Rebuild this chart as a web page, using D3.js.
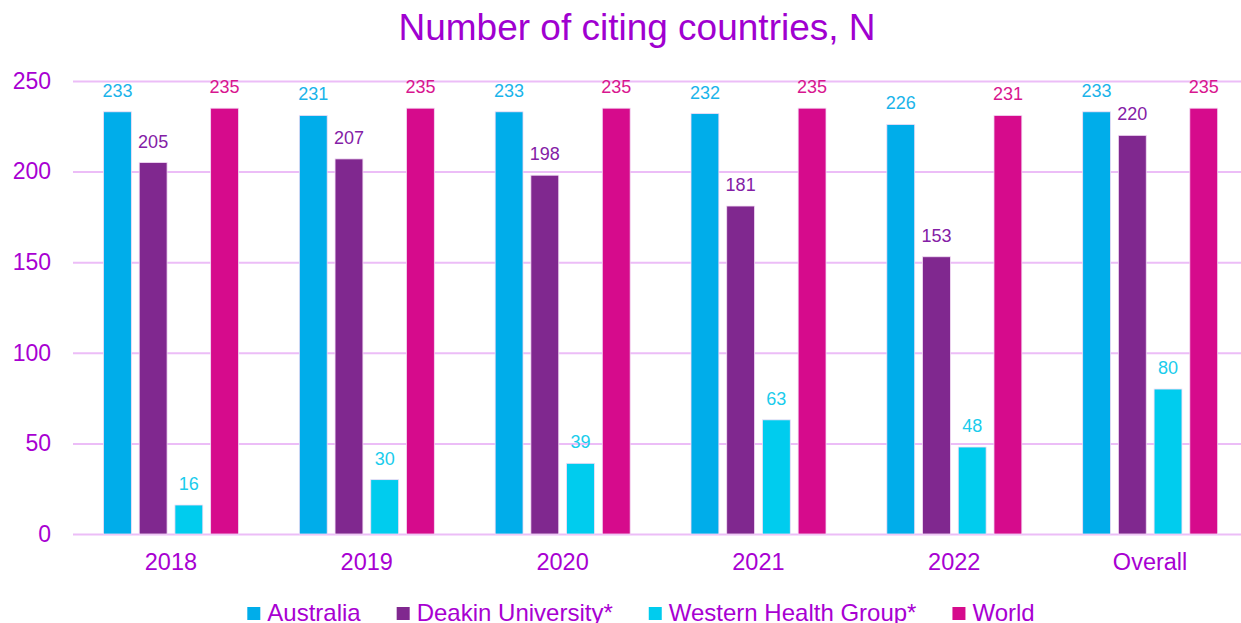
<!DOCTYPE html>
<html>
<head>
<meta charset="utf-8">
<script src="https://cdn.jsdelivr.net/npm/d3@7"></script>
<style>
  body { margin: 0; background: #fff; }
  svg { display: block; font-family: "Liberation Sans", Arial, sans-serif; }
</style>
</head>
<body>
<svg id="chart" width="1241" height="623"></svg>
<script>
// data
const years = ["2018", "2019", "2020", "2021", "2022", "Overall"];
const seriesNames = ["Australia", "Deakin University*", "Western Health Group*", "World"];
const australia = [233, 231, 233, 232, 226, 233];
const deakin = [205, 207, 198, 181, 153, 220];
const westernHealth = [16, 30, 39, 63, 48, 80];
const world = [235, 235, 235, 235, 231, 235];
const yTicks = [0, 50, 100, 150, 200, 250];

const barColors = ["#00adea", "#80288f", "#00ccee", "#d60b8c"];
const labelColors = ["#1ab4ea", "#8420a6", "#1accec", "#d8168f"];
const textPurple = "#a800d2";

const allSeries = [australia, deakin, westernHealth, world];

const svg = d3.select("#chart");
const margin = {left: 73, top: 81, bottom: 89};
const plotW = 1175;
const plotH = 623 - margin.top - margin.bottom;

//title
svg.append("text")
  .attr("x", 637)
  .attr("y", 40)
  .attr("text-anchor", "middle")
  .style("font-size", "37px")
  .style("fill", "#a000d0")
  .text("Number of citing countries, N");

const g = svg.append("g").attr("transform", `translate(${margin.left},${margin.top})`);

const x = d3.scaleBand().domain(years).range([0, plotW]);
const x1 = d3.scaleBand().domain(d3.range(4)).range([30.5, 165.5]).paddingInner(0.22);
const y = d3.scaleLinear().domain([0, 250]).range([plotH, 0]);

//gridlines + y labels
const yAxis = g.append("g")
  .call(d3.axisLeft(y).tickValues(yTicks).tickSize(-plotW).tickPadding(22));
yAxis.select(".domain").remove();
yAxis.selectAll(".tick line").attr("stroke", "#ecbdf7").attr("stroke-width", 2);
yAxis.selectAll(".tick text")
  .style("font-size", "23px")
  .style("fill", textPurple)
  .attr("font-family", "Liberation Sans, Arial, sans-serif");

//x labels
const xAxis = g.append("g")
  .attr("transform", `translate(0,${plotH})`)
  .call(d3.axisBottom(x).tickSize(0).tickPadding(19));
xAxis.select(".domain").remove();
xAxis.selectAll(".tick text")
  .style("font-size", "23.5px")
  .style("fill", textPurple)
  .attr("font-family", "Liberation Sans, Arial, sans-serif");

//bars
const groups = g.selectAll(".grp")
  .data(years)
  .enter()
  .append("g")
  .attr("class", "grp")
  .attr("transform", d => `translate(${x(d)},0)`);

groups.selectAll("rect")
  .data((d, i) => allSeries.map((s, k) => ({k: k, v: s[i]})))
  .enter()
  .append("rect")
  .attr("x", d => x1(d.k))
  .attr("width", x1.bandwidth())
  .attr("y", d => y(d.v))
  .attr("height", d => plotH - y(d.v))
  .style("fill", d => barColors[d.k])
  .style("stroke", "#f3dcf5")
  .style("stroke-width", 0.8);

groups.selectAll("text.val")
  .data((d, i) => allSeries.map((s, k) => ({k: k, v: s[i]})))
  .enter()
  .append("text")
  .attr("class", "val")
  .attr("x", d => x1(d.k) + x1.bandwidth() / 2)
  .attr("y", d => y(d.v) - 15)
  .attr("text-anchor", "middle")
  .style("font-size", "18px")
  .style("fill", d => labelColors[d.k])
  .text(d => d.v);

//legend
const legend = svg.append("g");
let lx = 0;
seriesNames.forEach((name, i) => {
  const item = legend.append("g").attr("transform", `translate(${lx},0)`);
  item.append("rect")
    .attr("x", 0).attr("y", -14)
    .attr("width", 13).attr("height", 13)
    .style("fill", barColors[i]);
  const t = item.append("text")
    .attr("x", 20).attr("y", 0)
    .style("font-size", "24px")
    .style("fill", textPurple)
    .text(name);
  lx += 20 + t.node().getComputedTextLength() + 36;
});
const legendW = lx - 36;
legend.attr("transform", `translate(${641 - legendW / 2},621)`);
</script>
</body>
</html>
